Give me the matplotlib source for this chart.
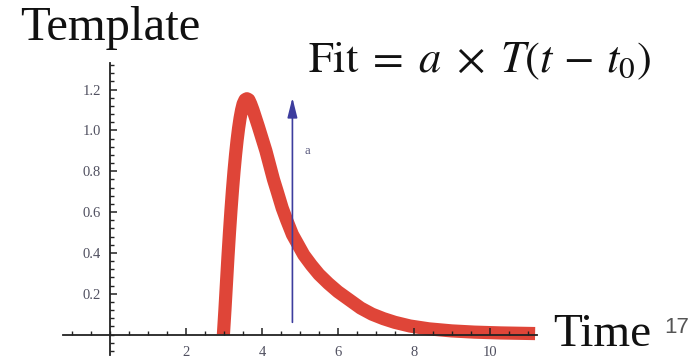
import matplotlib
matplotlib.use("Agg")
import matplotlib.pyplot as plt
from matplotlib.ticker import FixedLocator, MultipleLocator, FixedFormatter

# ---- data ----
time_vals = [2.98, 3.02, 3.06, 3.10, 3.14, 3.18, 3.22, 3.26, 3.30, 3.34, 3.38,
             3.42, 3.46, 3.50, 3.55, 3.60, 3.65, 3.70, 3.76, 3.83, 3.90, 4.00,
             4.10, 4.20, 4.30, 4.40, 4.53, 4.65, 4.80, 4.95, 5.10, 5.30, 5.50,
             5.75, 6.00, 6.30, 6.60, 6.90, 7.20, 7.50, 7.90, 8.40, 9.00, 9.60,
             10.30, 11.20]
template_vals = [0.00, 0.12, 0.25, 0.38, 0.50, 0.61, 0.71, 0.80, 0.88, 0.95, 1.01,
                 1.06, 1.10, 1.13, 1.15, 1.155, 1.15, 1.13, 1.10, 1.06, 1.02, 0.96,
                 0.90, 0.83, 0.76, 0.70, 0.62, 0.56, 0.49, 0.44, 0.39, 0.34, 0.295,
                 0.25, 0.21, 0.17, 0.13, 0.10, 0.078, 0.06, 0.042, 0.028, 0.018, 0.012,
                 0.008, 0.005]
x_major = [2, 4, 6, 8, 10]
x_labels = ["2", "4", "6", "8", "10"]
y_major = [0.2, 0.4, 0.6, 0.8, 1.0, 1.2]
y_labels = ["0.2", "0.4", "0.6", "0.8", "1.0", "1.2"]
arrow_t = 4.8
arrow_y = (0.06, 1.16)
arrow_label = "a"

W, H = 697, 361
fig = plt.figure(figsize=(W / 100, H / 100), dpi=100)
plt.rcParams['mathtext.fontset'] = 'stix'

ax = fig.add_axes([63 / W, (H - 355) / H, (537 - 63) / W, (355 - 63) / H])
ax.set_xlim(-1.25, 11.25)
ax.set_ylim(-0.10, 1.33)
ax.set_facecolor('none')

for s in ['top', 'right']:
    ax.spines[s].set_visible(False)
ax.spines['left'].set_position(('data', 0))
ax.spines['bottom'].set_position(('data', 0))
for s in ['left', 'bottom']:
    ax.spines[s].set_linewidth(1.3)
    ax.spines[s].set_color('#222222')

ax.plot(time_vals, template_vals, color='#DF4538', lw=9.5,
        solid_capstyle='butt', solid_joinstyle='round', zorder=2)

ax.annotate('', xy=(arrow_t, arrow_y[1]), xytext=(arrow_t, arrow_y[0]),
            arrowprops=dict(arrowstyle='-|>,head_length=1.0,head_width=0.25',
                            mutation_scale=12, color='#3d3d9e', lw=1.2,
                            shrinkA=0, shrinkB=0), zorder=3)
ax.text(arrow_t + 0.4, 0.9, arrow_label, fontsize=9, family='Liberation Serif',
        color='#55557a', ha='center', va='center')

ax.xaxis.set_major_locator(FixedLocator(x_major))
ax.xaxis.set_major_formatter(FixedFormatter(x_labels))
ax.yaxis.set_major_locator(FixedLocator(y_major))
ax.yaxis.set_major_formatter(FixedFormatter(y_labels))
ax.xaxis.set_minor_locator(MultipleLocator(0.5))
ax.yaxis.set_minor_locator(MultipleLocator(0.04))
ax.set_axisbelow(False)

ax.tick_params(axis='both', which='major', direction='in', length=5, width=1.1,
               color='#222222', labelcolor='#505060', labelsize=10.5)
ax.tick_params(axis='both', which='minor', direction='in', length=2.8, width=1.0,
               color='#222222')
ax.tick_params(axis='y', which='major', pad=7)
ax.tick_params(axis='x', which='major', pad=8)
for lab in ax.get_xticklabels() + ax.get_yticklabels():
    lab.set_family('Liberation Serif')

fig.text(20 / W, (H - 40) / H, "Template", family='Liberation Serif', fontsize=35,
         color='#111111', ha='left', va='baseline')
fig.text(308 / W, (H - 72) / H, r"$\mathrm{Fit}\;=\;a\;\times\;T(t\,-\,t_0)$",
         fontsize=32, color='#111111', ha='left', va='baseline')
fig.text(553 / W, (H - 346) / H, "Time", family='Liberation Serif', fontsize=34,
         color='#111111', ha='left', va='baseline')
fig.text(664 / W, (H - 333) / H, "17", family='Liberation Sans', fontsize=16,
         color='#555555', ha='left', va='baseline')

fig.savefig("out.png", dpi=100)
